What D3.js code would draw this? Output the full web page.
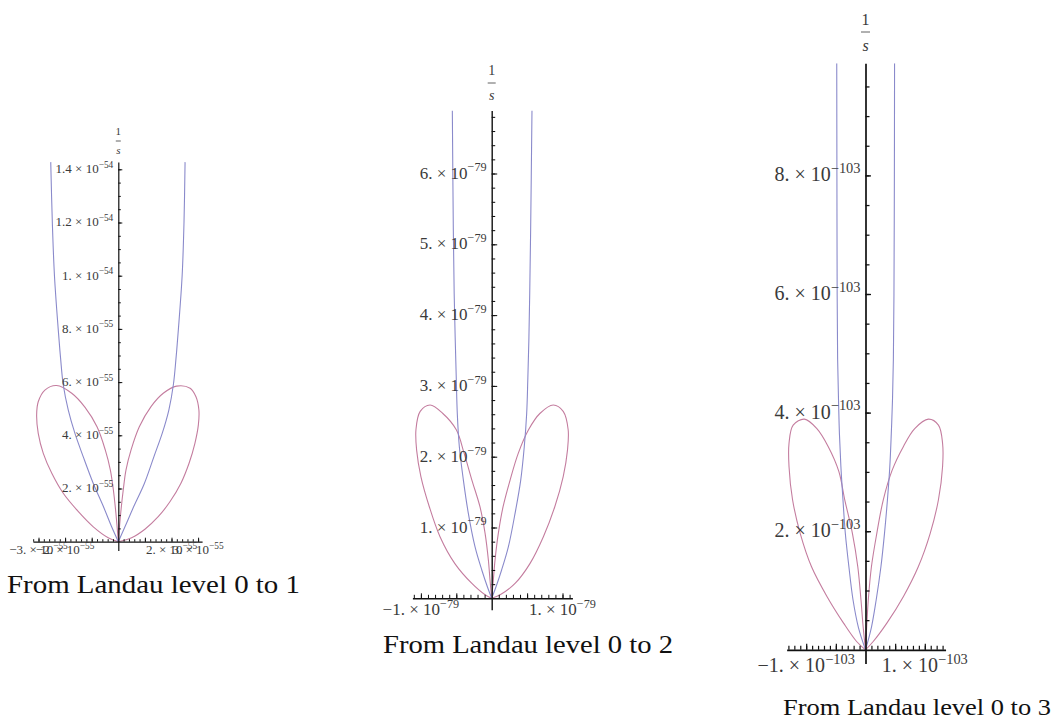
<!DOCTYPE html>
<html>
<head>
<meta charset="utf-8">
<script src="https://cdn.jsdelivr.net/npm/d3@7"></script>
<style>
  body { margin: 0; background: #fff; }
  text { font-family: "Liberation Serif", "Times New Roman", serif; }
</style>
</head>
<body>
<svg id="chart" width="1056" height="719"></svg>
<script>
// ---- data, x and y in units of the panel exponent ----

// panel 1, units of 1e-55
const p1BlueLeft = [[0,0],[-0.25,0.56],[-0.56,1.32],[-0.94,2.19],[-1.32,3.2],[-1.63,4.07],[-1.88,4.95],[-2.07,5.9],[-2.17,6.9],[-2.26,8.0],[-2.4,10.0],[-2.48,12.0],[-2.54,14.27]];
const p1BlueRight = [[0,0],[0.25,0.56],[0.58,1.32],[0.98,2.19],[1.34,3.2],[1.65,4.07],[1.9,4.95],[2.07,5.9],[2.17,6.9],[2.26,8.0],[2.4,10.0],[2.47,12.0],[2.51,14.27]];
const p1RedLeft = [[0,0],[-0.09,1.07],[-0.19,1.98],[-0.3,2.7],[-0.49,3.45],[-0.8,4.32],[-1.25,5.05],[-1.75,5.58],[-2.32,5.87],[-2.76,5.7],[-3.01,5.26],[-3.07,4.76],[-3.01,4.07],[-2.82,3.32],[-2.5,2.57],[-2.07,1.82],[-1.5,1.13],[-0.94,0.56],[-0.38,0.15],[0,0]];
const p1RedRight = [[0,0],[0.09,1.07],[0.19,1.98],[0.29,2.7],[0.48,3.45],[0.79,4.32],[1.23,5.08],[1.69,5.58],[2.19,5.85],[2.7,5.77],[2.92,5.45],[3.03,4.95],[3.01,4.39],[2.88,3.7],[2.66,2.95],[2.35,2.19],[1.94,1.5],[1.5,0.94],[1.0,0.47],[0.5,0.15],[0,0]];

// panel 2, units of 1e-79
const p2BlueLeft = [[0,0],[-0.06,0.16],[-0.14,0.4],[-0.236,0.73],[-0.33,1.2],[-0.4,1.67],[-0.457,2.14],[-0.486,2.61],[-0.5,3.09],[-0.515,3.65],[-0.53,4.3],[-0.542,5.2],[-0.556,6.89]];
const p2BlueRight = [[0,0],[0.06,0.16],[0.14,0.4],[0.236,0.73],[0.33,1.2],[0.41,1.67],[0.46,2.14],[0.494,2.61],[0.51,3.09],[0.525,3.65],[0.537,4.3],[0.55,5.2],[0.569,6.89]];
const p2RedLeft = [[0,0],[-0.024,0.26],[-0.047,0.54],[-0.094,0.92],[-0.165,1.29],[-0.28,1.67],[-0.39,2.05],[-0.5,2.38],[-0.69,2.61],[-0.87,2.73],[-1.01,2.64],[-1.07,2.38],[-1.06,2.09],[-1.0,1.72],[-0.88,1.29],[-0.73,0.87],[-0.52,0.49],[-0.28,0.21],[-0.094,0.05],[0,0]];
const p2RedRight = [[0,0],[0.023,0.26],[0.047,0.54],[0.094,0.92],[0.16,1.29],[0.26,1.67],[0.376,2.05],[0.52,2.38],[0.68,2.61],[0.87,2.73],[1.01,2.64],[1.08,2.38],[1.07,2.09],[1.01,1.72],[0.89,1.29],[0.73,0.87],[0.54,0.49],[0.33,0.21],[0.12,0.05],[0,0]];

// panel 3, units of 1e-103
const p3BlueLeft = [[0,0],[-0.12,0.38],[-0.21,0.84],[-0.28,1.4],[-0.34,1.96],[-0.38,2.53],[-0.415,3.09],[-0.44,3.65],[-0.455,4.21],[-0.47,4.9],[-0.478,6.0],[-0.482,8.0],[-0.485,9.89]];
const p3BlueRight = [[0,0],[0.1,0.38],[0.18,0.84],[0.26,1.4],[0.32,1.96],[0.37,2.53],[0.41,3.09],[0.435,3.65],[0.455,4.21],[0.47,4.9],[0.48,6.0],[0.487,8.0],[0.49,9.89]];
const p3RedLeft = [[0,0],[-0.04,0.39],[-0.076,0.84],[-0.13,1.4],[-0.22,1.96],[-0.35,2.53],[-0.45,3.01],[-0.63,3.43],[-0.82,3.73],[-1.03,3.89],[-1.22,3.79],[-1.29,3.48],[-1.29,3.09],[-1.23,2.53],[-1.1,1.96],[-0.91,1.4],[-0.65,0.9],[-0.37,0.45],[-0.15,0.14],[0,0]];
const p3RedRight = [[0,0],[0.02,0.39],[0.047,0.84],[0.1,1.4],[0.19,1.96],[0.3,2.53],[0.45,3.03],[0.64,3.43],[0.83,3.73],[1.06,3.89],[1.23,3.79],[1.3,3.48],[1.3,3.09],[1.23,2.53],[1.09,1.96],[0.89,1.4],[0.64,0.9],[0.36,0.45],[0.13,0.14],[0,0]];

// tick labels
const p1YTicks = [2, 4, 6, 8, 10, 12, 14];
const p1YLabels = [['2.', '−55'], ['4.', '−55'], ['6.', '−55'], ['8.', '−55'], ['1.', '−54'], ['1.2', '−54'], ['1.4', '−54']];
const p1XTicks = [-3, -2, 2, 3];
const p1XLabels = [['−3.', '−55'], ['−2.', '−55'], ['2.', '−55'], ['3.', '−55']];

const p2YTicks = [1, 2, 3, 4, 5, 6];
const p2YLabels = [['1.', '−79'], ['2.', '−79'], ['3.', '−79'], ['4.', '−79'], ['5.', '−79'], ['6.', '−79']];
const p2XTicks = [-1, 1];
const p2XLabels = [['−1.', '−79'], ['1.', '−79']];

const p3YTicks = [2, 4, 6, 8];
const p3YLabels = [['2.', '−103'], ['4.', '−103'], ['6.', '−103'], ['8.', '−103']];
const p3XTicks = [-1, 1];
const p3XLabels = [['−1.', '−103'], ['1.', '−103']];

const captions = ['From Landau level 0 to 1', 'From Landau level 0 to 2', 'From Landau level 0 to 3'];

// ---- layout / styles per panel ----
const panels = [
  { id: 1, blue: [p1BlueLeft, p1BlueRight], red: [p1RedLeft, p1RedRight],
    yTicks: p1YTicks, yLabels: p1YLabels, xTicks: p1XTicks, xLabels: p1XLabels,
    ox: 118.3, oy: 541.7, unit: 26.6, xMin: -3.21, xMax: 3.15, yMin: -0.33, yMax: 14.27,
    yMinor: 0.5, xMinor: 0.2, xMajor: 1, font: 13, axisW: 1.2,
    yTickMaj: 4, yTickMin: 2.5, xTickMaj: 4, xTickMin: 2.5, xLabBase: 554, labGap: 5,
    sFont: 11, oneBase: 135, barY: 141, barW: 5, sBase: 154,
    cap: captions[0], capX: 7, capW: 293, capBase: 593, capFont: 26 },
  { id: 2, blue: [p2BlueLeft, p2BlueRight], red: [p2RedLeft, p2RedRight],
    yTicks: p2YTicks, yLabels: p2YLabels, xTicks: p2XTicks, xLabels: p2XLabels,
    ox: 491.7, oy: 598.3, unit: 70.8, xMin: -1.12, xMax: 1.14, yMin: -0.16, yMax: 6.89,
    yMinor: 0.2, xMinor: 0.1, xMajor: 0.5, font: 17, axisW: 1.4,
    yTickMaj: 5.5, yTickMin: 3.5, xTickMaj: 5, xTickMin: 3.5, xLabBase: 615, labGap: 5,
    sFont: 14, oneBase: 75, barY: 83, barW: 8, sBase: 99.5,
    cap: captions[1], capX: 383, capW: 290, capBase: 653, capFont: 26 },
  { id: 3, blue: [p3BlueLeft, p3BlueRight], red: [p3RedLeft, p3RedRight],
    yTicks: p3YTicks, yLabels: p3YLabels, xTicks: p3XTicks, xLabels: p3XLabels,
    ox: 865.5, oy: 649.8, unit: 59.3, xMin: -1.33, xMax: 1.35, yMin: -0.23, yMax: 9.89,
    yMinor: 0.5, xMinor: 0.1, xMajor: 0.5, font: 20, axisW: 1.7,
    yTickMaj: 5.5, yTickMin: 4, xTickMaj: 6, xTickMin: 4, xLabBase: 672, labGap: 5,
    sFont: 16, oneBase: 25, barY: 32, barW: 9, sBase: 51,
    cap: captions[2], capX: 783, capW: 268, capBase: 715, capFont: 24 }
];

const blueColor = '#8a8acb';
const redColor = '#c47d9f';
const labelColor = '#3a3a3a';

const svg = d3.select('#chart');

function steps(min, max, step) {
  const out = [];
  for (let i = Math.ceil(min / step - 1e-9); i <= Math.floor(max / step + 1e-9); i++) {
    if (i !== 0) out.push(+(i * step).toFixed(6));
  }
  return out;
}

function addSciLabel(sel, lab, font) {
  sel.append('tspan').text(lab[0] + ' × 10');
  sel.append('tspan')
    .attr('dy', -font * 0.42)
    .attr('font-size', font * 0.72)
    .text(lab[1]);
}

function drawPanel(p) {
  const x = d3.scaleLinear()
    .domain([p.xMin, p.xMax])
    .range([p.ox + p.xMin * p.unit, p.ox + p.xMax * p.unit]);
  const y = d3.scaleLinear()
    .domain([p.yMin, p.yMax])
    .range([p.oy - p.yMin * p.unit, p.oy - p.yMax * p.unit]);

  const g = svg.append('g');

  // clip to the plot range
  svg.append('clipPath').attr('id', 'clip' + p.id)
    .append('rect')
    .attr('x', x(p.xMin) - 30)
    .attr('y', y(p.yMax))
    .attr('width', x(p.xMax) - x(p.xMin) + 60)
    .attr('height', y(p.yMin) - y(p.yMax));

  const line = d3.line()
    .x(d => x(d[0]))
    .y(d => y(d[1]))
    .curve(d3.curveCatmullRom.alpha(0.5));

  const curves = g.append('g').attr('clip-path', 'url(#clip' + p.id + ')');

  curves.selectAll('path.red')
    .data(p.red)
    .enter()
    .append('path')
    .attr('class', 'red')
    .attr('d', line)
    .attr('fill', 'none')
    .attr('stroke', redColor)
    .attr('stroke-width', 1.1);

  curves.selectAll('path.blue')
    .data(p.blue)
    .enter()
    .append('path')
    .attr('class', 'blue')
    .attr('d', line)
    .attr('fill', 'none')
    .attr('stroke', blueColor)
    .attr('stroke-width', 1.1);

  // y axis: minor ticks + domain line
  const yAx = g.append('g')
    .attr('transform', `translate(${x(0)},0)`)
    .style('color', '#111');
  yAx.call(d3.axisRight(y)
    .tickValues(steps(0.001, p.yMax, p.yMinor))
    .tickSize(p.yTickMin)
    .tickSizeOuter(0)
    .tickFormat(''));
  yAx.append('g').call(d3.axisRight(y)
    .tickValues(p.yTicks)
    .tickSize(p.yTickMaj)
    .tickFormat(''))
    .select('.domain').remove();
  yAx.selectAll('path, line').attr('stroke-width', p.axisW);
  yAx.selectAll('.tick line').attr('stroke-width', Math.max(1, p.axisW * 0.75));

  // x axis
  const xAx = g.append('g')
    .attr('transform', `translate(0,${y(0)})`)
    .style('color', '#111');
  xAx.call(d3.axisTop(x)
    .tickValues(steps(p.xMin, p.xMax, p.xMinor))
    .tickSize(p.xTickMin)
    .tickSizeOuter(0)
    .tickFormat(''));
  xAx.append('g').call(d3.axisTop(x)
    .tickValues(steps(p.xMin, p.xMax, p.xMajor))
    .tickSize(p.xTickMaj)
    .tickFormat(''))
    .select('.domain').remove();
  xAx.selectAll('path').attr('stroke-width', p.axisW);
  xAx.selectAll('.tick line').attr('stroke-width', Math.max(1, p.axisW * 0.7));

  // y tick labels
  g.selectAll('text.ylab')
    .data(p.yTicks)
    .enter()
    .append('text')
    .attr('class', 'ylab')
    .attr('x', x(0) - p.labGap)
    .attr('y', d => y(d) + p.font * 0.3)
    .attr('text-anchor', 'end')
    .attr('font-size', p.font)
    .attr('fill', labelColor)
    .each(function (d, i) { addSciLabel(d3.select(this), p.yLabels[i], p.font); });

  // x tick labels
  g.selectAll('text.xlab')
    .data(p.xTicks)
    .enter()
    .append('text')
    .attr('class', 'xlab')
    .attr('x', d => x(d))
    .attr('y', p.xLabBase)
    .attr('text-anchor', 'middle')
    .attr('font-size', p.font)
    .attr('fill', labelColor)
    .each(function (d, i) { addSciLabel(d3.select(this), p.xLabels[i], p.font); });

  // axis label 1/s
  g.append('text')
    .attr('x', x(0)).attr('y', p.oneBase)
    .attr('text-anchor', 'middle')
    .attr('font-size', p.sFont)
    .attr('fill', labelColor)
    .text('1');
  g.append('line')
    .attr('x1', x(0) - p.barW / 2).attr('x2', x(0) + p.barW / 2)
    .attr('y1', p.barY).attr('y2', p.barY)
    .attr('stroke', labelColor)
    .attr('stroke-width', 0.8);
  g.append('text')
    .attr('x', x(0)).attr('y', p.sBase)
    .attr('text-anchor', 'middle')
    .attr('font-size', p.sFont)
    .attr('font-style', 'italic')
    .attr('fill', labelColor)
    .text('s');

  // caption
  svg.append('text')
    .attr('x', p.capX)
    .attr('y', p.capBase)
    .attr('font-size', p.capFont)
    .attr('textLength', p.capW)
    .attr('lengthAdjust', 'spacingAndGlyphs')
    .attr('fill', '#111')
    .text(p.cap);
}

panels.forEach(drawPanel);
</script>
</body>
</html>
